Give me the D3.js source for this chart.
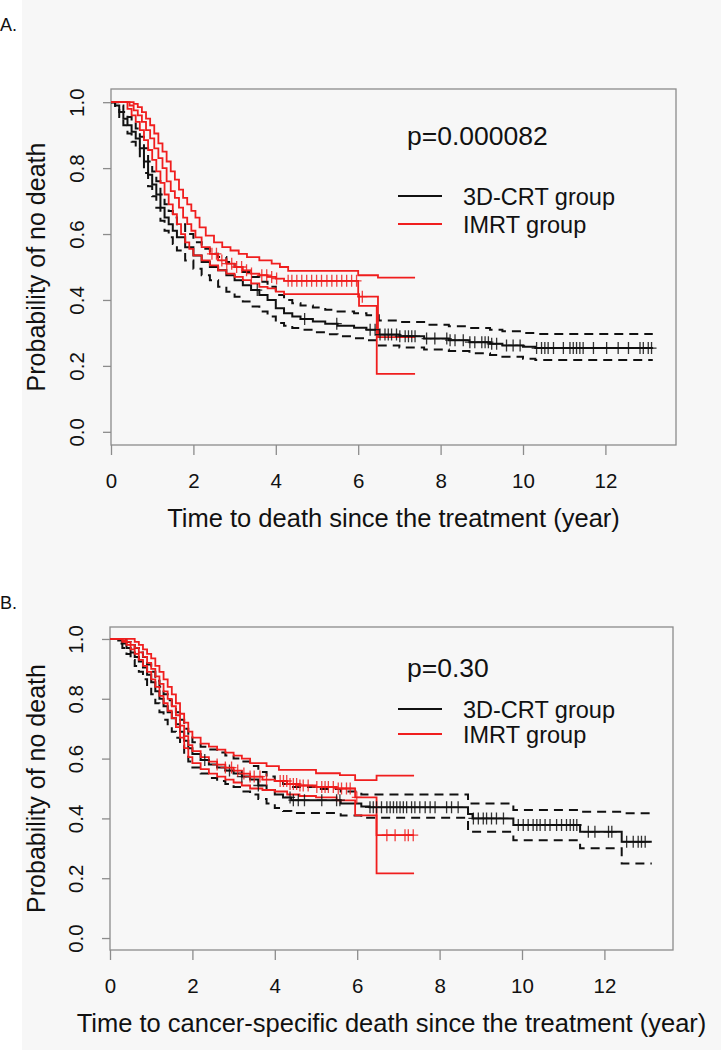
<!DOCTYPE html>
<html><head><meta charset="utf-8">
<script src="https://cdn.jsdelivr.net/npm/d3@7"></script>
<style>html,body{margin:0;padding:0;background:#fff;} svg{display:block;font-family:"Liberation Sans",Arial,sans-serif;}</style>
</head><body><svg id="c" width="721" height="1050"></svg>
<script>
// ---------- shared axis data ----------
const xTicks = [0, 2, 4, 6, 8, 10, 12];
const yTicks = [0, 0.2, 0.4, 0.6, 0.8, 1.0];
const yTickLabels = ["0.0", "0.2", "0.4", "0.6", "0.8", "1.0"];
const groupNames = ["3D-CRT group", "IMRT group"];

// ---------- Panel A : overall death ----------
const aTitle = "Time to death since the treatment (year)";
const aPValue = "p=0.000082";
const aCrtEst = [[0,1],[0.1,0.99],[0.2,0.97],[0.3,0.95],[0.4,0.93],[0.5,0.91],[0.6,0.89],[0.7,0.86],[0.8,0.82],[0.9,0.78],[1.0,0.75],[1.1,0.72],[1.2,0.68],[1.3,0.65],[1.4,0.63],[1.5,0.61],[1.6,0.59],[1.8,0.56],[2.0,0.535],[2.2,0.515],[2.4,0.50],[2.6,0.49],[2.8,0.475],[3.0,0.46],[3.2,0.445],[3.4,0.43],[3.6,0.415],[3.8,0.40],[4.0,0.375],[4.2,0.36],[4.4,0.35],[4.6,0.342],[4.9,0.335],[5.2,0.328],[5.5,0.322],[5.9,0.316],[6.2,0.31],[6.5,0.295],[7.0,0.29],[7.6,0.283],[8.2,0.278],[8.7,0.272],[9.2,0.267],[9.5,0.262],[10.0,0.258],[10.3,0.254],[13.15,0.254]];
const aCrtHi = [[0,1],[0.2,0.99],[0.3,0.97],[0.4,0.955],[0.5,0.94],[0.6,0.92],[0.7,0.895],[0.8,0.86],[0.9,0.82],[1.0,0.79],[1.1,0.76],[1.2,0.72],[1.3,0.69],[1.4,0.67],[1.5,0.65],[1.6,0.63],[1.8,0.60],[2.0,0.575],[2.2,0.555],[2.4,0.54],[2.6,0.53],[2.8,0.515],[3.0,0.50],[3.2,0.485],[3.4,0.47],[3.6,0.455],[3.8,0.44],[4.0,0.415],[4.2,0.40],[4.4,0.39],[4.6,0.383],[4.9,0.377],[5.2,0.37],[5.5,0.365],[5.9,0.36],[6.2,0.354],[6.5,0.338],[7.0,0.333],[7.6,0.325],[8.2,0.32],[8.7,0.315],[9.2,0.31],[9.5,0.305],[10.0,0.30],[10.3,0.297],[13.15,0.297]];
const aCrtLo = [[0,1],[0.1,0.98],[0.2,0.955],[0.3,0.93],[0.4,0.905],[0.5,0.88],[0.6,0.86],[0.7,0.825],[0.8,0.785],[0.9,0.745],[1.0,0.715],[1.1,0.68],[1.2,0.64],[1.3,0.61],[1.4,0.59],[1.5,0.57],[1.6,0.55],[1.8,0.52],[2.0,0.495],[2.2,0.475],[2.4,0.46],[2.6,0.44],[2.8,0.425],[3.0,0.41],[3.2,0.395],[3.4,0.38],[3.6,0.365],[3.8,0.35],[4.0,0.33],[4.2,0.322],[4.4,0.315],[4.6,0.31],[4.9,0.302],[5.2,0.296],[5.5,0.29],[5.9,0.284],[6.2,0.278],[6.5,0.262],[7.0,0.256],[7.6,0.25],[8.2,0.245],[8.7,0.238],[9.2,0.233],[9.5,0.228],[10.0,0.222],[10.3,0.218],[13.15,0.218]];
const aImrtEst = [[0,1],[0.45,0.99],[0.55,0.975],[0.65,0.96],[0.75,0.94],[0.85,0.915],[0.95,0.89],[1.05,0.86],[1.15,0.83],[1.25,0.80],[1.35,0.76],[1.45,0.73],[1.55,0.71],[1.65,0.68],[1.75,0.65],[1.85,0.63],[1.95,0.61],[2.05,0.59],[2.2,0.56],[2.4,0.54],[2.6,0.52],[2.8,0.51],[3.0,0.50],[3.2,0.49],[3.4,0.48],[3.6,0.475],[3.8,0.47],[4.0,0.465],[4.2,0.458],[6.0,0.41],[6.48,0.287],[7.38,0.287]];
const aImrtHi = [[0,1],[0.55,0.995],[0.65,0.985],[0.75,0.97],[0.85,0.95],[0.95,0.93],[1.05,0.905],[1.15,0.875],[1.25,0.85],[1.35,0.82],[1.45,0.79],[1.55,0.765],[1.65,0.735],[1.75,0.71],[1.85,0.69],[1.95,0.67],[2.05,0.65],[2.15,0.62],[2.3,0.595],[2.5,0.575],[2.7,0.56],[2.9,0.55],[3.1,0.54],[3.3,0.53],[3.6,0.52],[3.9,0.51],[4.1,0.50],[4.3,0.488],[6.0,0.475],[6.48,0.468],[7.38,0.468]];
const aImrtLo = [[0,1],[0.4,0.98],[0.5,0.96],[0.6,0.94],[0.7,0.915],[0.8,0.885],[0.9,0.855],[1.0,0.825],[1.1,0.79],[1.2,0.755],[1.3,0.72],[1.4,0.69],[1.5,0.66],[1.6,0.63],[1.7,0.60],[1.8,0.575],[1.9,0.555],[2.0,0.535],[2.2,0.52],[2.4,0.505],[2.6,0.49],[2.8,0.48],[3.0,0.47],[3.2,0.46],[3.4,0.45],[3.6,0.44],[3.8,0.435],[4.0,0.425],[4.2,0.418],[6.02,0.382],[6.45,0.176],[7.38,0.176]];
const aCrtCensor = [3.55,4.7,5.48,6.29,6.41,6.53,6.65,6.73,6.81,6.93,7.01,7.14,7.22,7.30,7.38,7.66,7.86,8.15,8.23,8.35,8.55,8.71,8.83,9.0,9.08,9.16,9.24,9.36,9.60,9.76,9.93,10.33,10.45,10.53,10.61,10.74,10.98,11.14,11.22,11.30,11.38,11.46,11.71,12.03,12.31,12.56,12.84,12.92,13.04,13.12];
const aImrtCensor = [2.45,2.56,2.69,2.81,2.93,3.05,3.17,3.29,3.41,3.66,3.78,3.90,4.02,4.30,4.39,4.51,4.63,4.75,4.87,4.99,5.11,5.24,5.36,5.48,5.60,5.72,5.84,5.96,6.1];

// ---------- Panel B : cancer-specific death ----------
const bTitle = "Time to cancer-specific death since the treatment (year)";
const bPValue = "p=0.30";
const bCrtEst = [[0,1],[0.2,0.995],[0.3,0.985],[0.4,0.97],[0.5,0.955],[0.6,0.94],[0.7,0.925],[0.8,0.905],[0.9,0.88],[1.0,0.855],[1.1,0.825],[1.2,0.80],[1.3,0.775],[1.4,0.755],[1.5,0.735],[1.6,0.715],[1.7,0.69],[1.8,0.66],[1.9,0.635],[2.0,0.615],[2.2,0.595],[2.4,0.58],[2.6,0.57],[2.8,0.56],[3.0,0.55],[3.2,0.54],[3.4,0.53],[3.6,0.51],[3.8,0.495],[4.0,0.48],[4.2,0.47],[4.4,0.461],[5.6,0.45],[6.1,0.44],[6.3,0.437],[8.69,0.415],[8.8,0.40],[9.79,0.378],[11.41,0.355],[12.42,0.322],[13.15,0.322]];
const bCrtHi = [[0,1],[0.4,0.99],[0.5,0.98],[0.6,0.97],[0.7,0.955],[0.8,0.94],[0.9,0.915],[1.0,0.89],[1.1,0.86],[1.2,0.84],[1.3,0.815],[1.4,0.795],[1.5,0.775],[1.6,0.755],[1.7,0.73],[1.8,0.70],[1.9,0.675],[2.0,0.655],[2.2,0.64],[2.4,0.63],[2.6,0.62],[2.8,0.61],[3.0,0.60],[3.2,0.59],[3.4,0.575],[3.6,0.555],[3.8,0.54],[4.0,0.525],[4.2,0.515],[4.4,0.505],[5.0,0.498],[5.6,0.49],[6.1,0.48],[8.69,0.45],[9.79,0.428],[11.41,0.422],[12.42,0.417],[13.15,0.417]];
const bCrtLo = [[0,1],[0.2,0.985],[0.3,0.97],[0.4,0.95],[0.5,0.93],[0.6,0.91],[0.7,0.89],[0.8,0.865],[0.9,0.84],[1.0,0.815],[1.1,0.785],[1.2,0.755],[1.3,0.73],[1.4,0.71],[1.5,0.69],[1.6,0.67],[1.7,0.645],[1.8,0.615],[1.9,0.59],[2.0,0.57],[2.2,0.55],[2.4,0.535],[2.6,0.525],[2.8,0.515],[3.0,0.505],[3.2,0.49],[3.4,0.48],[3.6,0.465],[3.8,0.45],[4.0,0.435],[4.2,0.425],[4.4,0.418],[5.6,0.41],[6.1,0.402],[8.69,0.355],[9.79,0.327],[11.41,0.30],[12.42,0.249],[13.15,0.249]];
const bImrtEst = [[0,1],[0.3,0.995],[0.4,0.99],[0.5,0.98],[0.6,0.97],[0.7,0.955],[0.8,0.94],[0.9,0.92],[1.0,0.90],[1.1,0.875],[1.2,0.85],[1.3,0.825],[1.4,0.80],[1.5,0.775],[1.6,0.745],[1.7,0.71],[1.8,0.675],[1.9,0.645],[2.0,0.625],[2.2,0.605],[2.4,0.59],[2.6,0.58],[2.8,0.57],[3.0,0.56],[3.2,0.55],[3.4,0.54],[3.7,0.53],[4.0,0.525],[4.3,0.515],[4.6,0.51],[5.0,0.505],[5.5,0.50],[5.95,0.47],[6.47,0.344],[7.38,0.344]];
const bImrtHi = [[0,1],[0.6,0.99],[0.7,0.98],[0.8,0.965],[0.9,0.95],[1.0,0.935],[1.1,0.91],[1.2,0.89],[1.3,0.865],[1.4,0.84],[1.5,0.815],[1.6,0.785],[1.7,0.75],[1.8,0.72],[1.9,0.69],[2.0,0.67],[2.2,0.65],[2.4,0.64],[2.6,0.63],[2.8,0.62],[3.0,0.61],[3.2,0.60],[3.4,0.585],[3.8,0.575],[4.1,0.562],[5.0,0.551],[5.58,0.545],[5.95,0.528],[6.47,0.543],[7.38,0.543]];
const bImrtLo = [[0,1],[0.3,0.99],[0.4,0.98],[0.5,0.965],[0.6,0.95],[0.7,0.93],[0.8,0.91],[0.9,0.89],[1.0,0.865],[1.1,0.84],[1.2,0.81],[1.3,0.785],[1.4,0.76],[1.5,0.735],[1.6,0.705],[1.7,0.67],[1.8,0.635],[1.9,0.605],[2.0,0.585],[2.2,0.565],[2.4,0.55],[2.6,0.54],[2.8,0.53],[3.0,0.52],[3.2,0.51],[3.4,0.50],[3.7,0.495],[4.0,0.49],[4.3,0.48],[4.6,0.475],[5.0,0.47],[5.5,0.46],[5.95,0.41],[6.47,0.216],[7.38,0.216]];
const bCrtCensor = [2.3,2.9,3.2,3.6,4.37,4.45,4.57,4.72,5.14,5.50,5.58,6.31,6.39,6.47,6.59,6.72,6.80,6.88,6.96,7.04,7.12,7.20,7.32,7.40,7.52,7.65,7.77,7.89,8.17,8.29,8.45,8.82,8.94,9.06,9.14,9.26,9.38,9.55,9.91,10.03,10.15,10.27,10.36,10.44,10.56,10.68,10.84,10.96,11.08,11.17,11.25,11.33,11.61,11.77,12.10,12.18,12.54,12.70,12.82,12.90,12.99];
const bImrtCensor = [2.6,2.8,2.95,3.1,3.25,3.4,3.5,3.64,3.80,4.13,4.21,4.29,4.37,4.45,4.53,4.61,4.69,4.81,5.02,5.14,5.22,5.30,5.42,5.54,5.62,5.74,5.83,5.99,6.72,6.92,7.16,7.24,7.36];

// ---------- drawing ----------
const BLACK = "#111", RED = "#f01e1e", FRAME = "#8c8c8c";
const FONT = "Liberation Sans, Arial, sans-serif";
const svg = d3.select("#c");
svg.append("rect").attr("x", 22).attr("y", 0).attr("width", 699).attr("height", 1050).attr("fill", "#f7f7f7");

const panels = [
  { label: "A.", labelY: 31, left: 111, right: 676, top: 89, bottom: 445, title: aTitle, p: aPValue,
    pY: 145, legY: [196, 224],
    crt: [aCrtEst, aCrtLo, aCrtHi, aCrtCensor], imrt: [aImrtEst, aImrtLo, aImrtHi, aImrtCensor] },
  { label: "B.", labelY: 609, left: 110, right: 673, top: 627, bottom: 950, title: bTitle, p: bPValue,
    pY: 677, legY: [709, 734],
    crt: [bCrtEst, bCrtLo, bCrtHi, bCrtCensor], imrt: [bImrtEst, bImrtLo, bImrtHi, bImrtCensor] }
];
const PX_PER_YEAR = 41.2;

function stepAt(data, t) {
  let v = data[0][1];
  for (const d of data) { if (d[0] <= t) v = d[1]; else break; }
  return v;
}

panels.forEach(p => {
  const x = d3.scaleLinear().domain([0, (p.right - p.left) / PX_PER_YEAR]).range([p.left, p.right]);
  const y = d3.scaleLinear().domain([-0.04, 1.04]).range([p.bottom, p.top]);
  const g = svg.append("g");

  svg.append("text").attr("x", 0).attr("y", p.labelY).attr("font-size", 18).attr("font-family", FONT).attr("fill", "#111").text(p.label);

  // x axis
  const xa = g.append("g").attr("transform", `translate(0,${p.bottom})`)
    .call(d3.axisBottom(x).tickValues(xTicks).tickSize(10).tickFormat(d3.format("d")));
  xa.select(".domain").remove();
  xa.selectAll("line").attr("stroke", FRAME).attr("stroke-width", 1.3);
  xa.selectAll("text").attr("y", 43).attr("dy", 0).attr("font-size", 20.5).attr("fill", "#111")
    .attr("font-family", FONT);

  // y axis
  const ya = g.append("g").attr("transform", `translate(${p.left},0)`)
    .call(d3.axisLeft(y).tickValues(yTicks).tickSize(8).tickFormat((d, i) => yTickLabels[i]));
  ya.select(".domain").remove();
  ya.selectAll("line").attr("stroke", FRAME).attr("stroke-width", 1.3);
  ya.selectAll("text").attr("transform", "rotate(-90)").attr("x", 0).attr("y", -27).attr("dy", 0)
    .attr("text-anchor", "middle").attr("font-size", 20.5).attr("fill", "#111")
    .attr("font-family", FONT);

  // frame
  g.append("rect").attr("x", p.left).attr("y", p.top).attr("width", p.right - p.left).attr("height", p.bottom - p.top)
    .attr("fill", "none").attr("stroke", FRAME).attr("stroke-width", 1.3);

  // titles
  g.append("text").attr("x", (p.left + p.right) / 2).attr("y", p.bottom + 82).attr("text-anchor", "middle")
    .attr("font-size", 25.5).attr("font-family", FONT).attr("fill", "#111").text(p.title);
  g.append("text").attr("transform", `translate(45,${(p.top + p.bottom) / 2}) rotate(-90)`).attr("text-anchor", "middle")
    .attr("font-size", 25).attr("font-family", FONT).attr("fill", "#111").text("Probability of no death");

  const line = d3.line().x(d => x(d[0])).y(d => y(d[1])).curve(d3.curveStepAfter);
  const curves = g.append("g").attr("fill", "none");
  // 3D-CRT
  curves.append("path").attr("d", line(p.crt[1])).attr("stroke", BLACK).attr("stroke-width", 2).attr("stroke-dasharray", "9,6");
  curves.append("path").attr("d", line(p.crt[2])).attr("stroke", BLACK).attr("stroke-width", 2).attr("stroke-dasharray", "9,6");
  curves.append("path").attr("d", line(p.crt[0])).attr("stroke", BLACK).attr("stroke-width", 2);
  // IMRT
  curves.append("path").attr("d", line(p.imrt[1])).attr("stroke", RED).attr("stroke-width", 1.8);
  curves.append("path").attr("d", line(p.imrt[2])).attr("stroke", RED).attr("stroke-width", 1.8);
  curves.append("path").attr("d", line(p.imrt[0])).attr("stroke", RED).attr("stroke-width", 1.8);

  const mark = (est, times, color) => {
    curves.append("g").selectAll("path").data(times).join("path")
      .attr("d", t => { const cx = x(t), cy = y(stepAt(est, t)); return `M${cx - 5},${cy}H${cx + 5}M${cx},${cy - 6}V${cy + 6}`; })
      .attr("stroke", color).attr("stroke-width", 1.3).attr("opacity", 0.85);
  };
  mark(p.crt[0], p.crt[3], BLACK);
  mark(p.imrt[0], p.imrt[3], RED);

  // legend
  g.append("text").attr("x", 407).attr("y", p.pY).attr("font-size", 26.5).attr("font-family", FONT).attr("fill", "#111").text(p.p);
  [BLACK, RED].forEach((c, i) => {
    g.append("line").attr("x1", 398).attr("x2", 442).attr("y1", p.legY[i]).attr("y2", p.legY[i]).attr("stroke", c).attr("stroke-width", 2);
    g.append("text").attr("x", 463).attr("y", p.legY[i] + 9).attr("font-size", 23.5).attr("font-family", FONT).attr("fill", "#111").text(groupNames[i]);
  });
});
</script></body></html>
